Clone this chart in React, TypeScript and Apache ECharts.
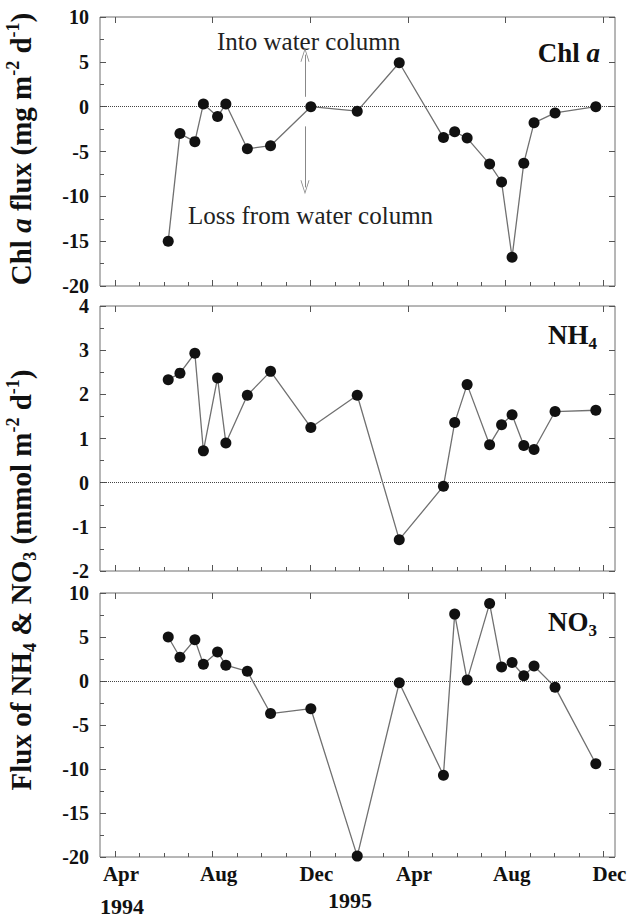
import React, { useEffect, useRef } from 'react';
import * as echarts from 'echarts';

// Sampling dates, in months since 1 Dec 1993 (4 = 1 Apr 1994, 24 = 1 Dec 1995)
const sampleMonths = [6.18, 6.66, 7.27, 7.62, 8.2, 8.54, 9.42, 10.37, 12.02, 13.92, 15.64, 17.45, 17.91, 18.42, 19.34, 19.83, 20.26, 20.74, 21.16, 22.02, 23.69];
// Chl a flux (mg m-2 d-1)
const chlFlux = [-15.0, -3.0, -3.9, 0.3, -1.1, 0.3, -4.7, -4.35, 0.0, -0.5, 4.9, -3.45, -2.8, -3.5, -6.4, -8.4, -16.8, -6.3, -1.8, -0.7, 0.0];
// NH4 flux (mmol m-2 d-1)
const nh4Flux = [2.33, 2.48, 2.93, 0.72, 2.37, 0.9, 1.98, 2.52, 1.25, 1.98, -1.29, -0.08, 1.36, 2.22, 0.86, 1.31, 1.54, 0.84, 0.75, 1.61, 1.64];
// NO3 flux (mmol m-2 d-1)
const no3Flux = [5.0, 2.7, 4.7, 1.9, 3.3, 1.8, 1.1, -3.7, -3.15, -19.9, -0.2, -10.7, 7.6, 0.1, 8.8, 1.6, 2.1, 0.6, 1.7, -0.7, -9.4];

const monthTickLabels = ['Apr', 'Aug', 'Dec', 'Apr', 'Aug', 'Dec'];
const yearLabels = ['1994', '1995'];
const annotationTexts = ['Into water column', 'Loss from water column'];
// arrow annotation: month position and value ranges [from, to]
const arrowMonth = 11.78;
const arrowUp = [1.1, 5.8];
const arrowDown = [-2.2, -9.0];

const FONT = '"Liberation Serif", "DejaVu Serif", "Times New Roman", serif';
const GRID_LEFT = 100;
const GRID_WIDTH = 515;
const X_MIN = 3.386;
const X_MAX = 24.475;
const TICK_MIN = 4;
const TICK_MAX = 24;
const tickLeft = GRID_LEFT + ((TICK_MIN - X_MIN) / (X_MAX - X_MIN)) * GRID_WIDTH;
const tickWidth = ((TICK_MAX - TICK_MIN) / (X_MAX - X_MIN)) * GRID_WIDTH;

const FRAME = '#6f6f6f';
const TICK = '#555';
const LINE = '#707070';
const DOT = '#111';
const CHEVRON = 'path://M5,0 L10,14 L9,14 L5,2.6 L1,14 L0,14 Z';

export default function App() {
  const ref = useRef<HTMLDivElement>(null);
  useEffect(() => {
    if (!ref.current) return;
    const chart = echarts.init(ref.current, undefined, { renderer: 'svg' });

    const panels = [
      { top: 17, height: 269, min: -20, max: 10, interval: 5, values: chlFlux },
      { top: 306, height: 265, min: -2, max: 4, interval: 1, values: nh4Flux },
      { top: 593, height: 264, min: -20, max: 10, interval: 5, values: no3Flux },
    ];

    const grid: any[] = [];
    const xAxis: any[] = [];
    const yAxis: any[] = [];
    const series: any[] = [];

    panels.forEach((p, i) => {
      grid.push({
        left: GRID_LEFT, top: p.top, width: GRID_WIDTH, height: p.height,
        show: true, borderColor: FRAME, borderWidth: 1, backgroundColor: 'transparent',
      });
      grid.push({ left: tickLeft, top: p.top, width: tickWidth, height: p.height });
      const gData = 2 * i;
      const gTick = 2 * i + 1;
      // data x axis (hidden)
      xAxis.push({ gridIndex: gData, type: 'value', min: X_MIN, max: X_MAX, show: false });
      // bottom tick axis
      xAxis.push({
        gridIndex: gTick, type: 'value', position: 'bottom', min: TICK_MIN, max: TICK_MAX, interval: 4,
        axisLine: { show: false },
        axisTick: { show: true, inside: true, length: 6, lineStyle: { color: TICK } },
        minorTick: { show: true, splitNumber: 4, length: 4, lineStyle: { color: TICK } },
        splitLine: { show: false }, minorSplitLine: { show: false },
        axisLabel: {
          show: i === 2, showMinLabel: true, showMaxLabel: true,
          formatter: (v: number) => monthTickLabels[Math.round((v - TICK_MIN) / 4)] ?? '',
          fontFamily: FONT, fontWeight: 'bold', fontSize: 21, color: '#111', margin: 6,
          padding: [0, 0, 0, 12],
        },
      });
      // top tick axis
      xAxis.push({
        gridIndex: gTick, type: 'value', position: 'top', min: TICK_MIN, max: TICK_MAX, interval: 4,
        axisLine: { show: false },
        axisTick: { show: true, inside: true, length: 6, lineStyle: { color: TICK } },
        splitLine: { show: false }, axisLabel: { show: false },
      });
      yAxis.push({
        gridIndex: gData, type: 'value', position: 'left', min: p.min, max: p.max, interval: p.interval,
        axisLine: { show: false },
        axisTick: { show: true, inside: true, length: 6, lineStyle: { color: TICK } },
        minorTick: { show: true, splitNumber: 2, length: 4, lineStyle: { color: TICK } },
        splitLine: { show: false }, minorSplitLine: { show: false },
        axisLabel: { fontFamily: FONT, fontWeight: 'bold', fontSize: 20, lineHeight: 16, color: '#111', margin: 11 },
      });
      yAxis.push({
        gridIndex: gData, type: 'value', position: 'right', min: p.min, max: p.max, interval: p.interval,
        axisLine: { show: false },
        axisTick: { show: true, inside: true, length: 6, lineStyle: { color: TICK } },
        splitLine: { show: false }, axisLabel: { show: false },
      });
      yAxis.push({ gridIndex: gTick, type: 'value', min: 0, max: 1, show: false });

      const markData: any[] = [
        { yAxis: 0, lineStyle: { type: 'dotted', color: '#444', width: 1 } },
      ];
      if (i === 0) {
        markData.push([
          { coord: [arrowMonth, arrowUp[0]], symbol: 'none' },
          { coord: [arrowMonth, arrowUp[1]], symbol: CHEVRON, symbolSize: [9, 14], lineStyle: { type: 'solid', color: '#888', width: 1 } },
        ]);
        markData.push([
          { coord: [arrowMonth, arrowDown[0]], symbol: 'none' },
          { coord: [arrowMonth, arrowDown[1]], symbol: CHEVRON, symbolSize: [9, 14], lineStyle: { type: 'solid', color: '#888', width: 1 } },
        ]);
      }

      series.push({
        type: 'line',
        xAxisIndex: 3 * i,
        yAxisIndex: 3 * i,
        data: sampleMonths.map((m, k) => [m, p.values[k]]),
        symbol: 'circle',
        symbolSize: 11,
        itemStyle: { color: DOT },
        lineStyle: { color: LINE, width: 1.3 },
        z: 3,
        markLine: {
          silent: true,
          symbol: ['none', 'none'],
          label: { show: false },
          lineStyle: { type: 'dotted', color: '#444', width: 1 },
          data: markData,
          z: 2,
        },
      });
    });

    const base = { fontFamily: FONT, fontWeight: 'bold', fill: '#111' };
    const bigRich = (size: number, lh: number) => ({
      n: { fontFamily: FONT, fontWeight: 'bold', fontSize: size, lineHeight: lh, color: '#111' },
      i: { fontFamily: FONT, fontWeight: 'bold', fontStyle: 'italic', fontSize: size, lineHeight: lh, color: '#111' },
      s: { fontFamily: FONT, fontWeight: 'bold', fontSize: Math.round(size * 0.62), lineHeight: 22, verticalAlign: 'top', color: '#111' },
      b: { fontFamily: FONT, fontWeight: 'bold', fontSize: Math.round(size * 0.62), verticalAlign: 'bottom', color: '#111' },
    });

    const graphic: any[] = [
      {
        type: 'text', x: 21, y: 149, rotation: Math.PI / 2,
        style: {
          ...base, align: 'center', verticalAlign: 'middle',
          text: '{n|Chl }{i|a}{n| flux (mg m}{s|-2}{n| d}{s|-1}{n|)}',
          rich: bigRich(29, 35),
        },
      },
      {
        type: 'text', x: 21, y: 580, rotation: Math.PI / 2,
        style: {
          ...base, align: 'center', verticalAlign: 'middle',
          text: '{n|Flux of NH}{b|4}{n| & NO}{b|3}{n| (mmol m}{s|-2}{n| d}{s|-1}{n|)}',
          rich: bigRich(29, 35),
        },
      },
      {
        type: 'text', x: 600, y: 53,
        style: { ...base, align: 'right', verticalAlign: 'middle', text: '{n|Chl }{i|a}', rich: bigRich(27, 34) },
      },
      {
        type: 'text', x: 597, y: 335,
        style: { ...base, align: 'right', verticalAlign: 'middle', text: '{n|NH}{b|4}', rich: bigRich(27, 34) },
      },
      {
        type: 'text', x: 597, y: 622,
        style: { ...base, align: 'right', verticalAlign: 'middle', text: '{n|NO}{b|3}', rich: bigRich(27, 34) },
      },
      {
        type: 'text', x: 217, y: 41,
        style: { fontFamily: FONT, fontSize: 25, fill: '#222', align: 'left', verticalAlign: 'middle', text: annotationTexts[0] },
      },
      {
        type: 'text', x: 188, y: 215,
        style: { fontFamily: FONT, fontSize: 25, fill: '#222', align: 'left', verticalAlign: 'middle', text: annotationTexts[1] },
      },
      {
        type: 'text', x: 100, y: 906,
        style: { ...base, fontSize: 22, align: 'left', verticalAlign: 'middle', text: yearLabels[0] },
      },
      {
        type: 'text', x: 350, y: 900,
        style: { ...base, fontSize: 22, align: 'center', verticalAlign: 'middle', text: yearLabels[1] },
      },
    ];

    chart.setOption({
      animation: false,
      backgroundColor: '#fff',
      grid, xAxis, yAxis, series, graphic,
    });
    return () => chart.dispose();
  }, []);

  return (
    <div
      ref={ref}
      style={{ position: 'fixed', left: 0, top: 0, width: 632, height: 920, background: '#fff' }}
    />
  );
}
